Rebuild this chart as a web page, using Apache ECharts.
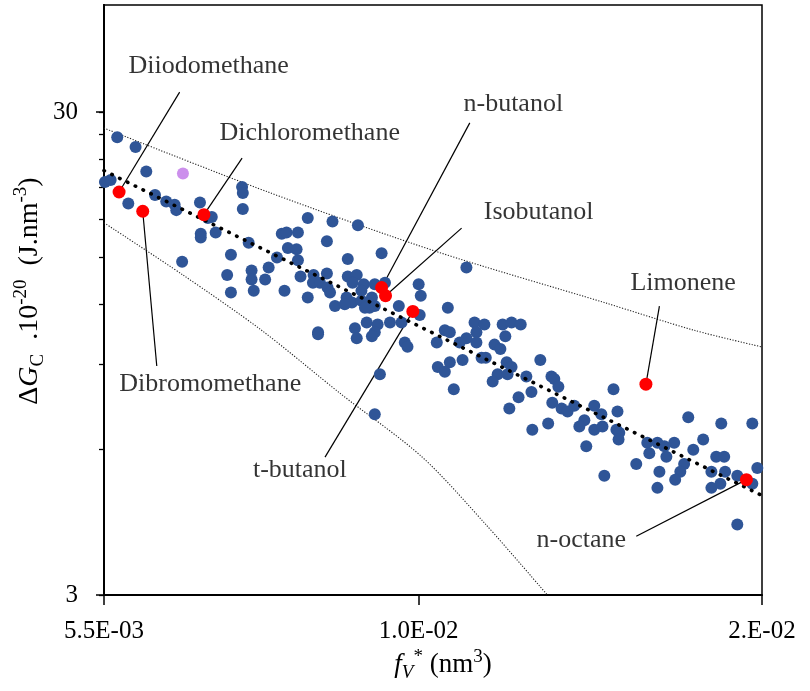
<!DOCTYPE html>
<html>
<head>
<meta charset="utf-8">
<script src="https://cdn.jsdelivr.net/npm/echarts@6/dist/echarts.min.js"></script>
<style>
  html, body { margin: 0; padding: 0; background: #fff; }
  #chart { width: 810px; height: 691px; }
</style>
</head>
<body>
<div id="chart"></div>
<script>
// Free-volume fraction fV* (nm^3) and cohesive free energy ΔG_C (10^-20 J.nm^-3)
const fV = [
  0.00564, 0.00584, 0.00596, 0.00551, 0.00557, 0.00576, 0.00606, 0.00619, 0.00629, 0.00631,
  0.00660, 0.00670, 0.00675, 0.00661, 0.00661, 0.00680, 0.00715, 0.00716, 0.00716, 0.00724,
  0.00700, 0.00638, 0.00695, 0.00700, 0.00728, 0.00728, 0.00731, 0.00747, 0.00752, 0.00810,
  0.00849, 0.00891, 0.00771, 0.00778, 0.00795, 0.00840, 0.00932, 0.00780, 0.00793, 0.00764,
  0.00795, 0.00874, 0.00799, 0.00819, 0.00840, 0.00818, 0.00829, 0.00775, 0.00841, 0.00845,
  0.00810, 0.00853, 0.00874, 0.00889, 0.00882, 0.00901, 0.00897, 0.00920, 0.00938, 0.00872,
  0.00881, 0.00869, 0.00915, 0.00920, 0.00911, 0.00897, 0.00903, 0.00963, 0.01000, 0.01004,
  0.01002, 0.00906, 0.00925, 0.00920, 0.00915, 0.00947, 0.00968, 0.00886, 0.00826, 0.00826,
  0.00889, 0.00974, 0.00979, 0.01035, 0.01095, 0.01057, 0.01051, 0.01061, 0.01112, 0.01133,
  0.01116, 0.01095, 0.01116, 0.01081, 0.01173, 0.01193, 0.01214, 0.01179, 0.01155, 0.01168,
  0.01127, 0.01136, 0.01087, 0.01061, 0.01037, 0.01051, 0.01182, 0.01193, 0.01162, 0.01184,
  0.01151, 0.01069, 0.01260, 0.01227, 0.01239, 0.01287, 0.01294, 0.01304, 0.01209, 0.01188,
  0.01289, 0.01312, 0.01327, 0.01344, 0.01396, 0.01415, 0.01370, 0.01357, 0.01396, 0.01241,
  0.01279, 0.01375, 0.01448, 0.01459, 0.01418, 0.01456, 0.01464, 0.01462, 0.01669, 0.01777,
  0.01885, 0.01717, 0.01544, 0.01574, 0.01550, 0.01595, 0.01625, 0.01601, 0.01685, 0.01760,
  0.01787, 0.01656, 0.01644, 0.01512, 0.01580, 0.01423, 0.01628, 0.01744, 0.01790, 0.01744,
  0.01774, 0.01832, 0.01885, 0.01903, 0.01574, 0.01832, 0.00929, 0.00920
];
const dG = [
  26.6, 25.4, 22.6, 21.5, 21.7, 19.4, 20.2, 19.6, 19.3, 18.8,
  19.5, 18.1, 18.2, 16.8, 16.5, 16.9, 21.0, 20.4, 18.9, 16.1,
  15.2, 14.7, 13.8, 12.7, 14.1, 13.5, 12.8, 13.5, 14.3, 18.1,
  17.8, 17.5, 16.8, 16.9, 16.9, 16.2, 15.3, 15.7, 15.6, 15.0,
  14.8, 14.9, 13.7, 13.8, 13.9, 13.3, 13.3, 12.8, 13.0, 12.7,
  12.4, 11.9, 13.7, 13.8, 13.3, 13.2, 12.8, 13.2, 13.3, 12.4,
  12.1, 12.0, 12.4, 11.9, 11.8, 12.2, 11.8, 11.9, 13.2, 12.5,
  11.4, 11.0, 10.9, 10.5, 10.3, 11.0, 11.0, 10.7, 10.5, 10.4,
  10.2, 10.0, 9.8, 10.0, 14.3, 11.8, 10.6, 10.5, 11.0, 10.9,
  10.5, 10.2, 10.0, 10.0, 10.9, 11.0, 10.9, 10.3, 9.9, 9.7,
  9.3, 9.3, 9.2, 9.1, 8.9, 8.7, 9.1, 8.9, 8.6, 8.6,
  8.3, 8.0, 9.2, 8.5, 7.9, 8.5, 8.4, 8.1, 7.7, 7.3,
  7.5, 7.3, 7.2, 7.4, 7.4, 7.1, 6.9, 6.7, 6.6, 6.6,
  6.8, 6.1, 8.0, 7.2, 6.7, 6.6, 6.5, 6.3, 7.0, 6.8,
  6.8, 6.3, 6.2, 6.2, 5.9, 6.1, 6.2, 5.8, 6.0, 5.8,
  5.8, 5.6, 5.4, 5.6, 5.4, 5.3, 5.2, 5.4, 5.4, 5.0,
  5.1, 5.3, 5.1, 5.5, 5.0, 4.2, 8.6, 7.1
];

// Highlighted solvents
const solventNames = ['Diiodomethane', 'Dichloromethane', 'n-butanol', 'Isobutanol', 'Limonene', 'Dibromomethane', 't-butanol', 'n-octane'];
const solventFV = [0.00566, 0.00665, 0.00932, 0.00939, 0.0154, 0.00592, 0.00989, 0.01864];
const solventDG = [20.5, 18.4, 13.0, 12.5, 8.2, 18.7, 11.6, 5.2];

// Label anchors and leader-line starts (data units)
const labelFV = [0.00671, 0.00813, 0.01197, 0.01256, 0.01653, 0.00673, 0.00798, 0.01362];
const labelDG = [37.4, 27.1, 31.2, 18.6, 13.3, 8.20, 5.44, 3.90];
const leaderFV = [0.00635, 0.00715, 0.01102, 0.01085, 0.01580, 0.00608, 0.00837, 0.01512];
const leaderDG = [33.0, 24.1, 28.5, 17.25, 11.9, 8.94, 5.79, 3.97];

// Separate point
const otherFV = [0.00639];
const otherDG = [22.4];

// Power-law fit and bounding curves
const fitFV = [0.0055, 0.0192];
const fitDG = [22.7, 4.82];
const upperFV = [0.0055, 0.00751, 0.01037, 0.01423, 0.01688, 0.01917];
const upperDG = [27.8, 20.5, 15.4, 12.1, 10.6, 9.8];
const lowerFV = [0.0055, 0.00639, 0.00742, 0.00864, 0.01006, 0.01136, 0.01277];
const lowerDG = [17.7, 13.8, 10.6, 7.8, 5.8, 4.2, 3.0];

// Axis ticks
const xTickValues = [0.0055, 0.01, 0.0192];
const xTickLabels = ['5.5E-03', '1.0E-02', '2.E-02'];
const yTickValues = [3, 30];
const yTickLabels = ['3', '30'];
const yAllTicks = [3, 6, 9, 12, 15, 18, 21, 24, 27, 30];

const SERIF = "'Liberation Serif', 'DejaVu Serif', serif";
const pairs = (xs, ys) => xs.map((x, i) => [x, ys[i]]);
const nearestLabel = (v, vals, labels) => {
  let best = 0;
  vals.forEach((t, i) => {
    if (Math.abs(Math.log(t) - Math.log(v)) < Math.abs(Math.log(vals[best]) - Math.log(v))) best = i;
  });
  return labels[best];
};

const chart = echarts.init(document.getElementById('chart'), null, { renderer: 'canvas' });

const yBase = {
  type: 'log', logBase: 10, min: 3, max: 50, position: 'left', offset: 0,
  splitLine: { show: false }, minorTick: { show: false }
};

const option = {
  animation: false,
  backgroundColor: '#fff',
  grid: {
    left: 104, right: 48, top: 5, bottom: 96,
    show: true, borderColor: '#000', borderWidth: 1.5, backgroundColor: 'transparent'
  },
  xAxis: {
    type: 'log', logBase: 10, min: 0.0055, max: 0.0192,
    axisLine: { show: true, onZero: false, lineStyle: { color: '#000', width: 2 } },
    axisTick: { show: true, inside: false, length: 10, customValues: xTickValues, lineStyle: { color: '#000', width: 1.5 } },
    axisLabel: {
      customValues: xTickValues, showMinLabel: true, showMaxLabel: true,
      formatter: v => nearestLabel(v, xTickValues, xTickLabels),
      margin: 24, color: '#000', fontSize: 25, fontFamily: SERIF
    },
    splitLine: { show: false }, minorTick: { show: false }
  },
  yAxis: [
    // minor ticks (every 3 units) and labels
    Object.assign({}, yBase, {
      axisLine: { show: true, onZero: false, lineStyle: { color: '#000', width: 2 } },
      axisTick: { show: true, inside: false, length: 5, customValues: yAllTicks, lineStyle: { color: '#000', width: 1.3 } },
      axisLabel: {
        customValues: yTickValues, showMinLabel: true, showMaxLabel: true,
        formatter: v => nearestLabel(v, yTickValues, yTickLabels),
        margin: 26, color: '#000', fontSize: 25, fontFamily: SERIF
      }
    }),
    // longer major ticks at 3 and 30
    Object.assign({}, yBase, {
      axisLine: { show: true, onZero: false, lineStyle: { color: '#000', width: 2 } },
      axisTick: { show: true, inside: false, length: 8, customValues: yTickValues, lineStyle: { color: '#000', width: 1.5 } },
      axisLabel: { show: false }
    })
  ],
  graphic: [
    {
      type: 'text', x: 443, y: 665,
      style: {
        text: '{i|f}{isub|V}{sup|*} (nm{sup|3})',
        align: 'center', verticalAlign: 'middle',
        fontSize: 27, fontFamily: SERIF, fill: '#000',
        rich: {
          i: { fontSize: 27, fontStyle: 'italic', fontFamily: SERIF, lineHeight: 34 },
          isub: { fontSize: 19, fontStyle: 'italic', fontFamily: SERIF, verticalAlign: 'bottom', lineHeight: 18 },
          sup: { fontSize: 19, fontFamily: SERIF, verticalAlign: 'top', lineHeight: 18 }
        }
      }
    },
    {
      type: 'text', x: 30, y: 291, rotation: Math.PI / 2,
      style: {
        text: 'Δ{i|G}{sub|C}  .10{sup|-20}  (J.nm{sup|-3})',
        align: 'center', verticalAlign: 'middle',
        fontSize: 28, fontFamily: SERIF, fill: '#000',
        rich: {
          i: { fontSize: 28, fontStyle: 'italic', fontFamily: SERIF, lineHeight: 36 },
          sub: { fontSize: 19, fontFamily: SERIF, verticalAlign: 'bottom', lineHeight: 18 },
          sup: { fontSize: 19, fontFamily: SERIF, verticalAlign: 'top', lineHeight: 18 }
        }
      }
    }
  ],
  series: [
    {
      name: 'upper', type: 'line', data: pairs(upperFV, upperDG), smooth: 0.3,
      yAxisIndex: 1, symbol: 'none', clip: true, z: 2,
      lineStyle: { color: '#222', width: 1.1, type: [1.2, 1.6] }
    },
    {
      name: 'lower', type: 'line', data: pairs(lowerFV, lowerDG), smooth: 0.3,
      yAxisIndex: 1, symbol: 'none', clip: true, z: 2,
      lineStyle: { color: '#222', width: 1.1, type: [1.2, 1.6] }
    },
    {
      name: 'leaders', type: 'lines', coordinateSystem: 'cartesian2d', z: 3,
      lineStyle: { color: '#000', width: 1.2, opacity: 1, curveness: 0 },
      data: solventNames.map((n, i) => ({ coords: [[leaderFV[i], leaderDG[i]], [solventFV[i], solventDG[i]]] }))
    },
    {
      name: 'data', type: 'scatter', data: pairs(fV, dG), z: 4,
      symbol: 'circle', symbolSize: 12,
      itemStyle: { color: '#2F5597', opacity: 1 }
    },
    {
      name: 'fit', type: 'line', data: pairs(fitFV, fitDG), z: 5,
      symbol: 'none', clip: true,
      lineStyle: { color: '#000', width: 3.6, type: [0.5, 8.2], cap: 'round' }
    },
    {
      name: 'other', type: 'scatter', data: pairs(otherFV, otherDG), z: 6,
      symbol: 'circle', symbolSize: 12,
      itemStyle: { color: '#CC8FEC', opacity: 1 }
    },
    {
      name: 'solvents', type: 'scatter', data: pairs(solventFV, solventDG), z: 6,
      symbol: 'circle', symbolSize: 13,
      itemStyle: { color: '#FF0000', opacity: 1 }
    },
    {
      name: 'labels', type: 'scatter', z: 7, symbolSize: 0, silent: true,
      data: solventNames.map((n, i) => ({ value: [labelFV[i], labelDG[i]], name: n })),
      label: {
        show: true, position: 'inside', formatter: p => p.name,
        color: '#000', fontSize: 26, fontFamily: SERIF
      }
    }
  ]
};

chart.setOption(option);
</script>
</body>
</html>
